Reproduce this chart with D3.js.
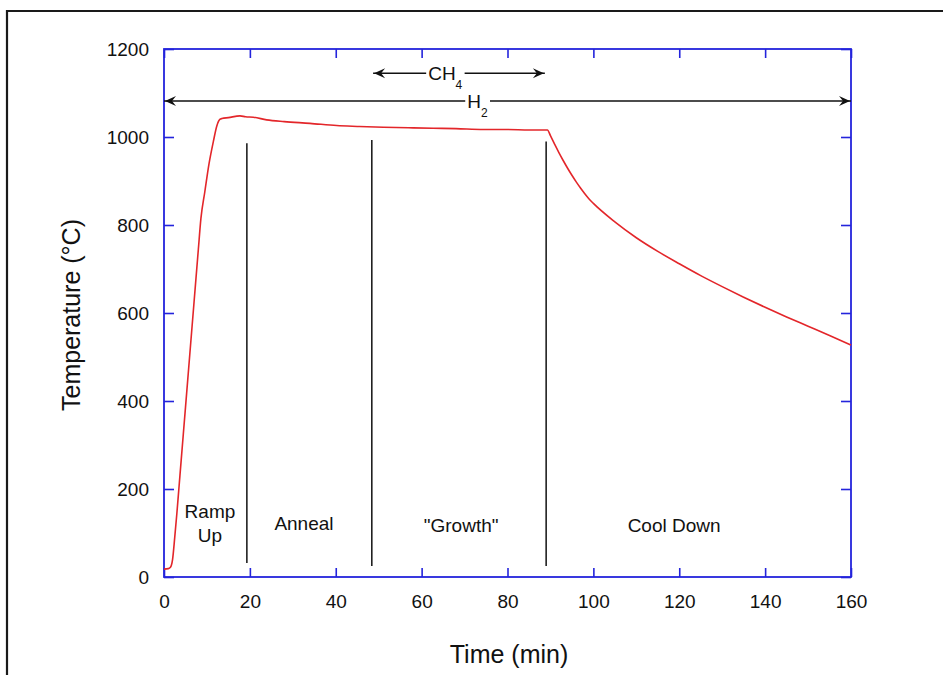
<!DOCTYPE html>
<html lang="en">
<head>
<meta charset="utf-8" />
<title>Temperature profile</title>
<script src="https://d3js.org/d3.v7.min.js"></script>
<style>
  body { margin: 0; background: #fff; }
  svg { display: block; font-family: "Liberation Sans", Arial, sans-serif; }
</style>
</head>
<body>
<svg width="943" height="675"></svg>
<script>
// furnace temperature log (min, degC)
var timeMin = [0, 1, 1.5, 2, 2.5, 3, 3.5, 4, 5, 6, 7, 8, 8.6, 9.5, 10.5, 11.5, 12.3, 13, 13.5,
  15, 17.7, 19, 20.8, 23.9, 28, 34, 40.2, 45, 51.1, 57, 62.7, 68, 74.4, 80, 85, 89.3,
  90, 91, 92, 93, 94, 95, 96, 97, 98, 99, 100, 105, 110, 115, 120, 125, 130, 135, 140, 145, 150, 155, 160];
var tempC = [18, 19, 22, 40, 90, 145, 205, 265, 385, 505, 625, 745, 815, 875, 940, 990, 1025, 1040, 1042,
  1044, 1048, 1046, 1045, 1039, 1035, 1031, 1026, 1024, 1022, 1021, 1020, 1019, 1017, 1017, 1016, 1016,
  1003, 983, 964, 946, 929, 913, 898, 884, 871, 859, 849, 807, 771, 740, 712, 685, 660, 636, 613, 591, 570, 549, 527];

// phase boundaries: time, top and bottom temperature of the marker line
var dividerTime = [19.3, 48.4, 89];
var dividerTop = [986, 993, 990];
var dividerBottom = [32, 25, 25];

// phase names: lines of text, centre time, baseline temperature of first line
var phaseNames = [["Ramp", "Up"], ["Anneal"], ["\"Growth\""], ["Cool Down"]];
var phaseTime = [10.7, 32.6, 69.2, 118.8];
var phaseTemp = [134, 107, 102, 102];

// gas flow arrows: label, subscript, start, end, level, label centre
var gasName = ["CH", "H"];
var gasSub = ["4", "2"];
var gasStart = [48.7, 0];
var gasEnd = [88.7, 160];
var gasTemp = [1145, 1082];
var gasLabelAt = [65.5, 73];

var xTicks = [0, 20, 40, 60, 80, 100, 120, 140, 160];
var yTicks = [0, 200, 400, 600, 800, 1000, 1200];

var svg = d3.select("svg");
var blue = "#2424dc";
var ink = "#111";

var x = d3.scaleLinear().domain([0, 160]).range([164, 851]);
var y = d3.scaleLinear().domain([0, 1200]).range([577, 49]);

// outer figure frame (runs off the right and bottom edge)
svg.append("path")
  .attr("d", "M7,680V11H950")
  .attr("fill", "none")
  .attr("stroke", "#1a1a1a")
  .attr("stroke-width", 2.2);

// axes, ticks pointing inward on all four sides
function styleAxis(g) {
  g.select(".domain").remove();
  g.selectAll(".tick line").attr("stroke", blue).attr("stroke-width", 1.6);
  g.selectAll(".tick text").attr("fill", ink).attr("font-size", 19)
    .attr("font-family", "Liberation Sans, Arial, sans-serif");
}

svg.append("g").attr("transform", "translate(0,577)")
  .call(d3.axisBottom(x).tickValues(xTicks).tickSize(-9).tickPadding(17.5).tickFormat(d3.format("d")))
  .call(styleAxis);
svg.append("g").attr("transform", "translate(0,49)")
  .call(d3.axisTop(x).tickValues(xTicks).tickSize(-9).tickFormat(""))
  .call(styleAxis);
svg.append("g").attr("transform", "translate(164,0)")
  .call(d3.axisLeft(y).tickValues(yTicks).tickSize(-10).tickPadding(15).tickFormat(d3.format("d")))
  .call(styleAxis);
svg.append("g").attr("transform", "translate(851,0)")
  .call(d3.axisRight(y).tickValues(yTicks).tickSize(-10).tickFormat(""))
  .call(styleAxis);

svg.append("rect")
  .attr("x", x(0)).attr("y", y(1200))
  .attr("width", x(160) - x(0)).attr("height", y(0) - y(1200))
  .attr("fill", "none").attr("stroke", blue).attr("stroke-width", 1.8);

// axis titles
svg.append("text")
  .attr("x", 509).attr("y", 663)
  .attr("text-anchor", "middle").attr("font-size", 25).attr("fill", ink)
  .text("Time (min)");
svg.append("text")
  .attr("transform", "translate(80,315) rotate(-90)")
  .attr("text-anchor", "middle").attr("font-size", 25).attr("fill", ink)
  .text("Temperature (\u00b0C)");

// phase divider lines
svg.append("g").selectAll("line")
  .data(dividerTime)
  .enter().append("line")
  .attr("x1", function (d) { return x(d); })
  .attr("x2", function (d) { return x(d); })
  .attr("y1", function (d, i) { return y(dividerTop[i]); })
  .attr("y2", function (d, i) { return y(dividerBottom[i]); })
  .attr("stroke", ink).attr("stroke-width", 1.5);

// phase names
var names = svg.append("g").selectAll("text")
  .data(phaseNames)
  .enter().append("text")
  .attr("text-anchor", "middle").attr("font-size", 19).attr("fill", ink)
  .attr("x", function (d, i) { return x(phaseTime[i]); })
  .attr("y", function (d, i) { return y(phaseTemp[i]); });
names.selectAll("tspan")
  .data(function (d) { return d; })
  .enter().append("tspan")
  .attr("x", function () { return this.parentNode.getAttribute("x"); })
  .attr("dy", function (d, i) { return i ? 24 : 0; })
  .text(function (d) { return d; });

// temperature trace
svg.append("path")
  .datum(timeMin)
  .attr("fill", "none")
  .attr("stroke", "#e3262a")
  .attr("stroke-width", 1.6)
  .attr("stroke-linejoin", "round")
  .attr("d", d3.line()
    .curve(d3.curveMonotoneX)
    .x(function (d) { return x(d); })
    .y(function (d, i) { return y(tempC[i]); }));

// gas flow arrows
function arrowHead(g, px, py, dir) {
  // barbed head, dir = -1 points left, 1 points right
  var L = 11, W = 5, notch = 7;
  g.append("path")
    .attr("d", "M" + px + "," + py +
      "L" + (px - dir * L) + "," + (py - W) +
      "L" + (px - dir * notch) + "," + py +
      "L" + (px - dir * L) + "," + (py + W) + "Z")
    .attr("fill", ink);
}

gasName.forEach(function (name, i) {
  var g = svg.append("g");
  var yy = y(gasTemp[i]);
  var label = g.append("text")
    .attr("x", x(gasLabelAt[i])).attr("y", yy + 7)
    .attr("text-anchor", "middle").attr("font-size", 19).attr("fill", ink);
  label.append("tspan").text(name);
  label.append("tspan").attr("font-size", 12).attr("dy", 9).text(gasSub[i]);
  var bb = label.node().getBBox();
  g.insert("line", "text")
    .attr("x1", x(gasStart[i])).attr("x2", bb.x - 2)
    .attr("y1", yy).attr("y2", yy)
    .attr("stroke", ink).attr("stroke-width", 1.5);
  g.insert("line", "text")
    .attr("x1", bb.x + bb.width + 2).attr("x2", x(gasEnd[i]))
    .attr("y1", yy).attr("y2", yy)
    .attr("stroke", ink).attr("stroke-width", 1.5);
  arrowHead(g, x(gasStart[i]) + 1, yy, -1);
  arrowHead(g, x(gasEnd[i]) - 1, yy, 1);
});
</script>
</body>
</html>
